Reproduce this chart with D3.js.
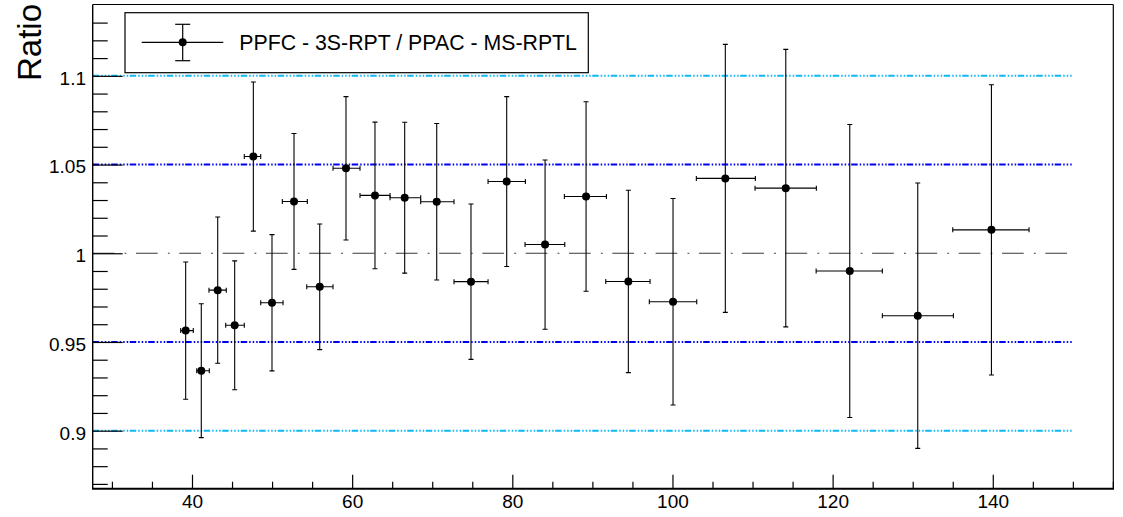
<!DOCTYPE html>
<html>
<head>
<meta charset="utf-8">
<script src="https://cdn.jsdelivr.net/npm/d3@7"></script>
<style>
  html, body { margin: 0; padding: 0; background: #fff; }
  svg { display: block; font-family: "Liberation Sans", Arial, Helvetica, sans-serif; }
</style>
</head>
<body>
<svg id="chart" width="1123" height="517"></svg>
<script>
// Ratio measurements: bin centre, bin edges, ratio and its uncertainty
const xCenter = [39.21, 41.16, 43.21, 45.33, 47.66, 49.99, 52.74, 55.95, 59.23, 62.85, 66.56, 70.56,
                 74.84, 79.30, 84.09, 89.21, 94.49, 100.07, 106.60, 114.15, 122.14, 130.63, 139.83];
const xLow    = [38.59, 40.59, 42.12, 44.21, 46.53, 48.58, 51.28, 54.33, 57.61, 60.98, 64.73, 68.56,
                 72.72, 76.97, 81.59, 86.50, 91.67, 97.11, 102.98, 110.31, 117.94, 126.21, 135.00];
const xHigh   = [40.16, 42.16, 44.28, 46.53, 48.58, 51.37, 54.40, 57.61, 60.98, 64.73, 68.56, 72.72,
                 76.97, 81.63, 86.55, 91.75, 97.20, 103.03, 110.35, 117.97, 126.21, 135.08, 144.53];
const ratio   = [0.9564, 0.9338, 0.9792, 0.9594, 1.0545, 0.9721, 1.0292, 0.9811, 1.0479, 1.0326, 1.0313, 1.0290,
                 0.9840, 1.0404, 1.0049, 1.0320, 0.9841, 0.9727, 1.0422, 1.0367, 0.9900, 0.9648, 1.0132];
const ratioErr= [0.0387, 0.0377, 0.0412, 0.0363, 0.0420, 0.0384, 0.0383, 0.0354, 0.0404, 0.0413, 0.0425, 0.0441,
                 0.0438, 0.0479, 0.0477, 0.0534, 0.0514, 0.0582, 0.0755, 0.0782, 0.0826, 0.0748, 0.0818];

// Horizontal reference levels
const refLevels = [1.1, 1.05, 1.0, 0.95, 0.9];
const refKinds  = ["outer", "inner", "unity", "inner", "outer"];
const refEnd = 150;

// Axis ticks and labels
const xMajorTicks = [40, 60, 80, 100, 120, 140];
const xMinorTicks = [30, 35, 45, 50, 55, 65, 70, 75, 85, 90, 95, 105, 110, 115, 125, 130, 135, 145, 150, 155];
const yMajorTicks = [0.9, 0.95, 1.0, 1.05, 1.1];
const yTickLabels = ["0.9", "0.95", "1", "1.05", "1.1"];
const yMinorTicks = [0.87, 0.88, 0.89, 0.91, 0.92, 0.93, 0.94, 0.96, 0.97, 0.98, 0.99,
                     1.01, 1.02, 1.03, 1.04, 1.06, 1.07, 1.08, 1.09, 1.11, 1.12, 1.13];

const legendLabel = "PPFC - 3S-RPT / PPAC - MS-RPTL";
const yTitle = "Ratio";

// Frame geometry
const frameL = 92.7, frameR = 1113.3, frameT = 4.5, frameB = 488.7;

const svg = d3.select("#chart");
const x = d3.scaleLinear().domain([27.6, 155.05]).range([frameL, frameR]);
const y = d3.scaleLinear().domain([0.8673, 1.1402]).range([frameB, frameT]);

svg.append("defs").append("clipPath").attr("id", "plotClip")
  .append("rect").attr("x", frameL).attr("y", frameT).attr("width", frameR - frameL).attr("height", frameB - frameT);

const plot = svg.append("g").attr("clip-path", "url(#plotClip)");

// Reference lines
const refStyle = {
  outer: { color: "#10b8f4", width: 2, dash: "6.5,2,1.5,2,1.5,2,1.5,1.5" },
  inner: { color: "#0000f0", width: 2, dash: "6.5,2,1.5,2,1.5,2,1.5,1.5" },
  unity: { color: "#3a3a3a", width: 1, dash: "21.7,10.2,1.8,9.6" }
};
refLevels.forEach((lv, i) => {
  const s = refStyle[refKinds[i]];
  plot.append("line")
    .attr("x1", x.range()[0]).attr("x2", x(refEnd))
    .attr("y1", y(lv)).attr("y2", y(lv))
    .attr("stroke", s.color).attr("stroke-width", s.width)
    .attr("stroke-dasharray", s.dash);
});

// Error bars and markers
const pts = xCenter.map((c, i) => ({ c, lo: xLow[i], hi: xHigh[i], v: ratio[i], e: ratioErr[i] }));
const cap = 2.5;
const g = plot.append("g").attr("stroke", "#000").attr("stroke-width", 1.1).attr("fill", "none");
pts.forEach(p => {
  const cx = x(p.c), cy = y(p.v);
  const yt = y(p.v + p.e), yb = y(p.v - p.e);
  const xl = x(p.lo), xr = x(p.hi);
  g.append("line").attr("x1", cx).attr("x2", cx).attr("y1", yt).attr("y2", yb);
  g.append("line").attr("x1", cx - cap).attr("x2", cx + cap).attr("y1", yt).attr("y2", yt);
  g.append("line").attr("x1", cx - cap).attr("x2", cx + cap).attr("y1", yb).attr("y2", yb);
  g.append("line").attr("x1", xl).attr("x2", xr).attr("y1", cy).attr("y2", cy);
  g.append("line").attr("x1", xl).attr("x2", xl).attr("y1", cy - cap).attr("y2", cy + cap);
  g.append("line").attr("x1", xr).attr("x2", xr).attr("y1", cy - cap).attr("y2", cy + cap);
});
plot.append("g").selectAll("circle").data(pts).join("circle")
  .attr("cx", d => x(d.c)).attr("cy", d => y(d.v)).attr("r", 4).attr("fill", "#000");

// Axes: ticks point into the frame
const tickFont = 19;
const xAxisMajor = d3.axisBottom(x).tickValues(xMajorTicks).tickSize(-14).tickPadding(5.7).tickFormat(d3.format("d"));
const xAxisMinor = d3.axisBottom(x).tickValues(xMinorTicks).tickSize(-7).tickFormat("");
const yAxisMajor = d3.axisLeft(y).tickValues(yMajorTicks).tickSize(-30).tickPadding(6.7)
  .tickFormat((d, i) => yTickLabels[i]);
const yAxisMinor = d3.axisLeft(y).tickValues(yMinorTicks).tickSize(-15).tickFormat("");

function styleAxis(sel) {
  sel.select(".domain").remove();
  sel.selectAll(".tick line").attr("stroke", "#000").attr("stroke-width", 1.2);
  sel.selectAll(".tick text").attr("fill", "#000").style("font-size", tickFont + "px")
     .style("font-family", "'Liberation Sans', Arial, sans-serif");
}
svg.append("g").attr("transform", `translate(0,${frameB})`).call(xAxisMinor).call(styleAxis);
svg.append("g").attr("transform", `translate(0,${frameB})`).call(xAxisMajor).call(styleAxis);
svg.append("g").attr("transform", `translate(${frameL},0)`).call(yAxisMinor).call(styleAxis);
const yg = svg.append("g").attr("transform", `translate(${frameL},0)`).call(yAxisMajor).call(styleAxis);
yg.selectAll(".tick text").attr("dy", "0.44em");

// Frame
svg.append("line").attr("x1", frameL).attr("x2", frameR).attr("y1", frameT).attr("y2", frameT)
  .attr("stroke", "#000").attr("stroke-width", 1.2);
svg.append("line").attr("x1", frameR).attr("x2", frameR).attr("y1", frameT).attr("y2", frameB)
  .attr("stroke", "#000").attr("stroke-width", 1.2);
svg.append("line").attr("x1", frameL).attr("x2", frameL).attr("y1", frameT).attr("y2", frameB)
  .attr("stroke", "#000").attr("stroke-width", 1.4);
svg.append("line").attr("x1", frameL - 0.7).attr("x2", frameR + 0.7).attr("y1", frameB).attr("y2", frameB)
  .attr("stroke", "#000").attr("stroke-width", 2);

// Y axis title
svg.append("text")
  .attr("transform", `translate(40.5,81) rotate(-90)`)
  .attr("text-anchor", "start")
  .style("font-size", "33px")
  .attr("fill", "#000")
  .text(yTitle);

// Legend
const leg = svg.append("g");
leg.append("rect").attr("x", 125).attr("y", 12.7).attr("width", 463.3).attr("height", 60)
  .attr("fill", "#fff").attr("stroke", "#000").attr("stroke-width", 1.2);
const lm = { cx: 182.7, cy: 42.3 };
leg.append("line").attr("x1", 141.7).attr("x2", 223.3).attr("y1", lm.cy).attr("y2", lm.cy)
  .attr("stroke", "#000").attr("stroke-width", 1.2);
leg.append("line").attr("x1", lm.cx).attr("x2", lm.cx).attr("y1", 24.3).attr("y2", 60.7)
  .attr("stroke", "#000").attr("stroke-width", 1.2);
[24.3, 60.7].forEach(yy => leg.append("line").attr("x1", lm.cx - 7.5).attr("x2", lm.cx + 7.5)
  .attr("y1", yy).attr("y2", yy).attr("stroke", "#000").attr("stroke-width", 1.2));
leg.append("circle").attr("cx", lm.cx).attr("cy", lm.cy).attr("r", 4).attr("fill", "#000");
leg.append("text").attr("x", 239.3).attr("y", 50).style("font-size", "21.3px").attr("fill", "#000")
  .text(legendLabel);
</script>
</body>
</html>
